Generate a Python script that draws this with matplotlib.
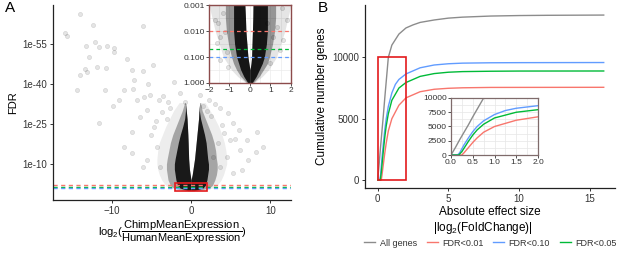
import matplotlib
matplotlib.use("Agg")
import matplotlib.pyplot as plt
from matplotlib.patches import Rectangle
from matplotlib.lines import Line2D

plt.rcParams['font.family'] = ['Liberation Sans', 'DejaVu Sans']
plt.rcParams['mathtext.fontset'] = 'custom'
plt.rcParams['mathtext.rm'] = 'Liberation Sans'
plt.rcParams['mathtext.it'] = 'Liberation Sans:italic'

# ---- panel A data: log2 fold change vs -log10(FDR) ----
# scattered outlier genes
out_lfc = [-13.96, -12.37, -15.93, -15.6, -6.1, -13.2, -12.1, -11.6, -12.8, -10.6,
           -9.7, -9.7, -8.1, -11.8, -10.7, -13.4, -14.0, -13.1, -14.4, -10.9,
           -4.8, -7.5, -6.0, -7.2, -8.5, -7.3, -5.45, -2.2, -9.8, -9.1,
           -6.8, -5.9, -5.2, -4.1, -3.5, -2.85, -1.4, -0.7, -11.6, -8.4,
           -7.5, -6.4, -5.6, -4.7, -7.5, 1.55, 2.3, 3.0, 3.65, 4.7,
           5.3, 6.1, 7.0, 8.2, 9.1, 8.3, 6.4, 5.3, 4.5, 3.4,
           4.9, 1.1, -3.7, -4.3, -5.6, -6.0, -3.9, 3.65, 2.8, 6.2,
           7.2, -3.0, -2.6, 2.5, 3.9, 5.6, -5.0, -4.4, 4.2, 2.0]
out_nlfdr = [66.3, 62.0, 59.0, 58.1, 61.8, 54.3, 55.6, 53.8, 50.0, 54.1,
             53.6, 51.9, 49.3, 46.4, 45.9, 45.6, 43.4, 44.3, 37.8, 37.8,
             47.1, 45.3, 45.0, 41.5, 37.8, 38.0, 40.0, 40.9, 31.8, 34.0,
             34.0, 35.3, 35.9, 34.0, 35.4, 33.4, 36.5, 33.4, 25.5, 16.5,
             22.0, 27.8, 30.3, 24.0, 14.0, 31.8, 34.0, 32.5, 30.9, 29.0,
             25.3, 22.8, 19.0, 14.6, 16.5, 22.1, 7.8, 6.5, 12.8, 17.8,
             19.0, 35.9, 29.6, 16.5, 11.5, 9.0, 9.0, 9.0, 12.8, 15.3,
             11.5, 27.0, 31.0, 28.0, 24.5, 19.5, 21.0, 26.0, 21.5, 30.0]

# dense core of the volcano (boundaries per -log10 FDR level)
core_y = [0, 1, 2, 4, 6, 8, 10, 12, 15, 18, 21, 24, 27, 30, 33]
gap_left = [0, 0, 0, 0, -0.1, -0.2, -0.25, -0.3, -0.33, -0.36, -0.4, -0.45, -0.5, -0.6, -0.7]
gap_right = [0, 0, 0, 0, 0.15, 0.25, 0.35, 0.45, 0.55, 0.65, 0.75, 0.85, 0.95, 1.0, 1.1]
dense_left = [-0.4, -1.4, -1.7, -1.9, -2.0, -2.1, -2.1, -2.0, -1.8, -1.6, -1.35, -1.05, -0.8, -0.7, -0.7]
dense_right = [0.4, 1.5, 1.8, 2.0, 2.1, 2.2, 2.2, 2.1, 2.0, 1.9, 1.7, 1.45, 1.2, 1.05, 1.1]
mid_left = [-0.8, -2.2, -2.6, -2.9, -3.0, -3.1, -3.1, -3.0, -2.8, -2.6, -2.3, -1.9, -1.5, -1.1, -0.8]
mid_right = [0.8, 2.3, 2.7, 3.0, 3.2, 3.3, 3.3, 3.2, 3.1, 2.9, 2.6, 2.2, 1.8, 1.4, 1.2]
halo_left = [-1.0, -2.6, -3.2, -3.7, -4.0, -4.2, -4.3, -4.3, -4.2, -4.0, -3.6, -3.2, -2.7, -2.2, -1.5]
halo_right = [1.0, 2.7, 3.3, 3.8, 4.1, 4.3, 4.5, 4.5, 4.4, 4.2, 3.9, 3.5, 3.0, 2.4, 1.8]

# zoomed inset (|lfc| <= 2, FDR >= 0.001)
in_y = [0, 0.25, 0.5, 0.75, 1.0, 1.5, 2.0, 2.5, 3.0]
in_gap_left = [0, 0, 0, -0.05, -0.1, -0.15, -0.2, -0.22, -0.25]
in_gap_right = [0, 0, 0, 0.05, 0.08, 0.1, 0.12, 0.14, 0.15]
in_dense_left = [-0.1, -0.3, -0.45, -0.55, -0.65, -0.75, -0.8, -0.8, -0.8]
in_dense_right = [0.1, 0.3, 0.45, 0.6, 0.7, 0.8, 0.85, 0.85, 0.85]
in_mid_left = [-0.15, -0.45, -0.65, -0.8, -0.9, -1.05, -1.15, -1.2, -1.2]
in_mid_right = [0.15, 0.45, 0.65, 0.85, 0.95, 1.1, 1.2, 1.25, 1.25]
in_halo_left = [-0.2, -0.6, -0.9, -1.1, -1.3, -1.5, -1.7, -1.85, -2.0]
in_halo_right = [0.2, 0.6, 0.9, 1.1, 1.3, 1.5, 1.7, 1.85, 2.0]
in_out_lfc = [1.55, 1.79, 1.30, 1.14, 1.46, 0.81, 0.98, 1.63, -1.71, -1.55,
              -1.30, -1.46, -1.62, -1.14, -1.46, -1.06, -1.22]
in_out_nlfdr = [2.87, 2.42, 2.17, 1.78, 1.27, 2.29, 0.76, 1.65, 2.42, 2.29,
                2.68, 1.78, 1.53, 1.21, 0.88, 0.63, 1.97]

fdr_cuts = [0.01, 0.05, 0.10]
fdr_cut_y = [2.0, 1.301, 1.0]
fdr_cut_colors = ['#F8766D', '#00BA38', '#619CFF']

# ---- panel B data: cumulative genes vs |log2 fold change| ----
all_x = [0, 0.1, 0.2, 0.3, 0.4, 0.5, 0.75, 1, 1.5, 2, 2.5, 3, 4, 5, 6, 8, 10, 12, 16]
all_y = [0, 1300, 2700, 4000, 5300, 6700, 10000, 11000, 11900, 12400, 12650, 12850,
         13050, 13200, 13280, 13370, 13410, 13430, 13450]
f10_x = [0, 0.15, 0.2, 0.3, 0.4, 0.5, 0.6, 0.75, 1, 1.25, 1.5, 2, 3, 4, 5, 6, 8, 10, 16]
f10_y = [0, 0, 400, 1800, 3000, 4100, 5000, 6000, 7100, 7800, 8200, 8650, 9150, 9380,
         9480, 9530, 9560, 9570, 9580]
f05_x = [0, 0.18, 0.25, 0.3, 0.4, 0.5, 0.6, 0.75, 1, 1.5, 2, 3, 4, 5, 6, 8, 10, 16]
f05_y = [0, 0, 600, 1200, 2400, 3500, 4400, 5400, 6500, 7500, 7950, 8450, 8680, 8790,
         8840, 8870, 8885, 8890]
f01_x = [0, 0.25, 0.3, 0.4, 0.5, 0.6, 0.75, 1, 1.5, 2, 3, 4, 5, 6, 8, 16]
f01_y = [0, 0, 400, 1300, 2200, 3000, 4000, 5000, 6100, 6700, 7200, 7400, 7480, 7520,
         7550, 7560]

curve_labels = ['All genes', 'FDR<0.01', 'FDR<0.10', 'FDR<0.05']
curve_colors = ['#8c8c8c', '#F8766D', '#619CFF', '#00BA38']

tick_col = '#333333'

fig = plt.figure(figsize=(6.17, 2.58), dpi=100)


def style_main(ax):
    for s in ['top', 'right']:
        ax.spines[s].set_visible(False)
    for s in ['left', 'bottom']:
        ax.spines[s].set_linewidth(0.9)
        ax.spines[s].set_color('#222222')
    ax.tick_params(labelsize=7, colors=tick_col, length=2.5, width=0.7, pad=1.5)


def draw_volcano(ax, y, gl, gr, layers):
    # layers: list of (left, right, alpha), drawn light to dark
    for lft, rgt, a in layers:
        ax.fill_betweenx(y, lft, gl, color='black', alpha=a, lw=0)
        ax.fill_betweenx(y, gr, rgt, color='black', alpha=a, lw=0)


# ---- A ----
axA = fig.add_axes([0.0859, 0.2248, 0.3857, 0.7558])
style_main(axA)
axA.scatter(out_lfc, out_nlfdr, s=9, facecolor=(0, 0, 0, 0.1),
            edgecolor=(0, 0, 0, 0.12), linewidth=0.5)
draw_volcano(axA, core_y, gap_left, gap_right,
             [(halo_left, halo_right, 0.07), (mid_left, mid_right, 0.3),
              (dense_left, dense_right, 0.85)])
for yv, c in zip(fdr_cut_y, fdr_cut_colors):
    axA.axhline(yv, color=c, lw=1.0, ls=(0, (3, 2.5)))
axA.add_patch(Rectangle((-2, 0), 4, 3, fill=False, ec='#e31a1c', lw=1.2, zorder=5))
axA.set_xlim(-17.4, 12.6)
axA.set_ylim(-3.5, 69.6)
axA.set_xticks([-10, 0, 10])
axA.set_yticks([10, 25, 40, 55])
axA.set_yticklabels(['1e-10', '1e-25', '1e-40', '1e-55'])
axA.set_ylabel('FDR', fontsize=8, labelpad=3)
axA.set_xlabel(r'$\mathrm{log_2(}\dfrac{\mathrm{ChimpMeanExpression}}{\mathrm{HumanMeanExpression}}\mathrm{)}$',
               fontsize=8, labelpad=2)

axAi = fig.add_axes([0.3387, 0.6783, 0.1329, 0.3023])
axAi.set_facecolor('white')
axAi.grid(True, which='both', color='#ebebeb', lw=0.5)
axAi.set_axisbelow(True)
axAi.scatter(in_out_lfc, in_out_nlfdr, s=9, facecolor=(0, 0, 0, 0.1),
             edgecolor=(0, 0, 0, 0.15), linewidth=0.5)
draw_volcano(axAi, in_y, in_gap_left, in_gap_right,
             [(in_halo_left, in_halo_right, 0.1), (in_mid_left, in_mid_right, 0.35),
              (in_dense_left, in_dense_right, 0.85)])
for yv, c in zip(fdr_cut_y, fdr_cut_colors):
    axAi.axhline(yv, color=c, lw=0.9, ls=(0, (3, 2.5)))
axAi.set_xlim(-2, 2)
axAi.set_ylim(0, 3)
axAi.set_xticks([-2, -1, 0, 1, 2])
axAi.set_xticks([-1.5, -0.5, 0.5, 1.5], minor=True)
axAi.set_yticks([0, 1, 2, 3])
axAi.set_yticks([0.5, 1.5, 2.5], minor=True)
axAi.set_yticklabels(['1.000', '0.100', '0.010', '0.001'])
axAi.tick_params(labelsize=6, colors=tick_col, length=2, width=0.6, pad=1)
axAi.tick_params(which='minor', length=0)
for s in axAi.spines.values():
    s.set_color('#8c4b4b')
    s.set_linewidth(1.0)

# ---- B ----
axB = fig.add_axes([0.5916, 0.2713, 0.4052, 0.7093])
style_main(axB)
curves = [(all_x, all_y), (f01_x, f01_y), (f10_x, f10_y), (f05_x, f05_y)]
for (cx, cy), c in zip(curves, curve_colors):
    axB.plot(cx, cy, color=c, lw=1.0)
axB.add_patch(Rectangle((0, 0), 2, 10000, fill=False, ec='#e31a1c', lw=1.2, zorder=5))
axB.set_xlim(-0.9, 16.8)
axB.set_ylim(-650, 14270)
axB.set_xticks([0, 5, 10, 15])
axB.set_yticks([0, 5000, 10000])
axB.set_ylabel('Cumulative number genes', fontsize=8.5, labelpad=3)
axB.set_xlabel('Absolute effect size', fontsize=8.5, labelpad=2)
fig.text(0.782, 0.117, r'$\mathrm{|log_2(FoldChange)|}$', fontsize=8.5,
         ha='center', va='center')

axBi = fig.add_axes([0.731, 0.3992, 0.141, 0.221])
axBi.set_facecolor('white')
axBi.grid(True, which='both', color='#e6e6e6', lw=0.5)
axBi.set_axisbelow(True)
for (cx, cy), c in zip(curves, curve_colors):
    axBi.plot(cx, cy, color=c, lw=1.0)
axBi.set_xlim(0, 2)
axBi.set_ylim(0, 10000)
axBi.set_xticks([0, 0.5, 1.0, 1.5, 2.0])
axBi.set_xticklabels(['0.0', '0.5', '1.0', '1.5', '2.0'])
axBi.set_xticks([0.25, 0.75, 1.25, 1.75], minor=True)
axBi.set_yticks([0, 2500, 5000, 7500, 10000])
axBi.set_yticks([1250, 3750, 6250, 8750], minor=True)
axBi.tick_params(labelsize=6, colors=tick_col, length=2, width=0.6, pad=1)
axBi.tick_params(which='minor', length=0)
for s in axBi.spines.values():
    s.set_color('#7f6b6b')
    s.set_linewidth(0.9)

handles = [Line2D([], [], color=c, lw=1.0) for c in curve_colors]
fig.legend(handles, curve_labels, loc='center', bbox_to_anchor=(0.795, 0.058),
           ncol=4, frameon=False, fontsize=6.5, handlelength=1.2,
           handletextpad=0.5, columnspacing=1.1, labelcolor='#333333')

fig.text(0.008, 0.955, 'A', fontsize=11)
fig.text(0.515, 0.955, 'B', fontsize=11)

fig.savefig('out.png', dpi=100)
